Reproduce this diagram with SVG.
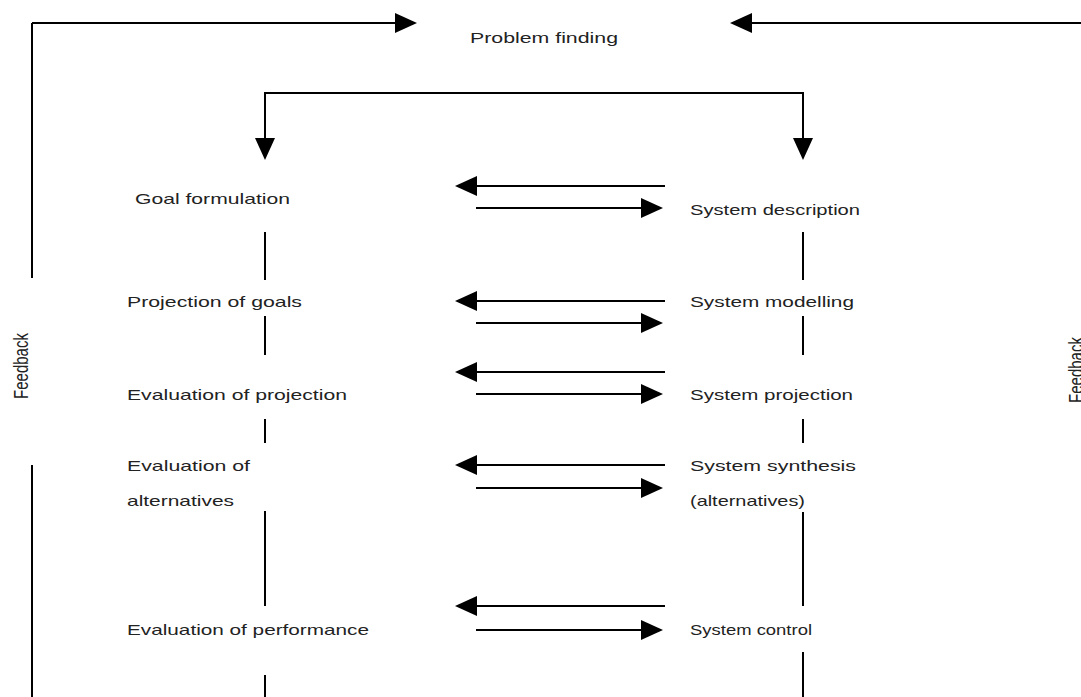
<svg xmlns="http://www.w3.org/2000/svg" width="1081" height="697" viewBox="0 0 1081 697">
  <defs>
    <style>
      .lbl { font-family: "Liberation Sans", Arial, sans-serif; font-size: 15px; fill: #222; }
      .ln { stroke: #000; stroke-width: 2; fill: none; }
      .arr { stroke: #000; stroke-width: 2; fill: none; marker-end: url(#head); }
    </style>
    <marker id="head" markerUnits="userSpaceOnUse" viewBox="0 0 22 20" markerWidth="22" markerHeight="20" refX="18" refY="10" orient="auto">
      <path d="M0,0 L22,10 L0,20 Z" fill="#000"/>
    </marker>
  </defs>
  <rect width="1081" height="697" fill="#fff"/>

  <!-- connectors -->
  <g id="connectors">
    <!-- outer feedback loops into problem finding -->
    <path class="ln" d="M32,278 V23"/>
    <path class="arr" d="M32,23 H413"/>
    <path class="ln" d="M32,465 V697"/>
    <path class="arr" d="M1081,23 H734"/>
    <!-- problem finding branches to both columns -->
    <path class="ln" d="M265,93 H803"/>
    <path class="arr" d="M265,92 V156"/>
    <path class="arr" d="M803,92 V156"/>
    <!-- left column spine -->
    <path class="ln" d="M265,232 V280 M265,316 V355 M265,419 V443 M265,511 V606 M265,675 V697"/>
    <!-- right column spine -->
    <path class="ln" d="M803,232 V280 M803,316 V355 M803,419 V443 M803,512 V606 M803,652 V697"/>
    <!-- exchanges between the columns -->
    <path class="arr" d="M665,186 H459"/>
    <path class="arr" d="M476,208 H659"/>
    <path class="arr" d="M665,301 H459"/>
    <path class="arr" d="M476,323 H659"/>
    <path class="arr" d="M665,372 H459"/>
    <path class="arr" d="M476,394 H659"/>
    <path class="arr" d="M665,465 H459"/>
    <path class="arr" d="M476,488 H659"/>
    <path class="arr" d="M665,606 H459"/>
    <path class="arr" d="M476,630 H659"/>
  </g>

  <g id="problem-finding">
    <text class="lbl" x="470" y="43" textLength="148" lengthAdjust="spacingAndGlyphs">Problem finding</text>
  </g>
  <g id="feedback-left">
    <text class="lbl" text-anchor="middle" transform="translate(28,366) scale(1.35,1) rotate(-90)">Feedback</text>
  </g>
  <g id="feedback-right">
    <text class="lbl" text-anchor="middle" transform="translate(1083,370) scale(1.35,1) rotate(-90)">Feedback</text>
  </g>

  <g id="goal-formulation">
    <text class="lbl" x="135" y="204" textLength="155" lengthAdjust="spacingAndGlyphs">Goal formulation</text>
  </g>
  <g id="projection-of-goals">
    <text class="lbl" x="127" y="307" textLength="175" lengthAdjust="spacingAndGlyphs">Projection of goals</text>
  </g>
  <g id="evaluation-of-projection">
    <text class="lbl" x="127" y="400" textLength="220" lengthAdjust="spacingAndGlyphs">Evaluation of projection</text>
  </g>
  <g id="evaluation-of-alternatives">
    <text class="lbl" x="127" y="471" textLength="123" lengthAdjust="spacingAndGlyphs">Evaluation of</text>
    <text class="lbl" x="127" y="506" textLength="107" lengthAdjust="spacingAndGlyphs">alternatives</text>
  </g>
  <g id="evaluation-of-performance">
    <text class="lbl" x="127" y="635" textLength="242" lengthAdjust="spacingAndGlyphs">Evaluation of performance</text>
  </g>

  <g id="system-description">
    <text class="lbl" x="690" y="215" textLength="170" lengthAdjust="spacingAndGlyphs">System description</text>
  </g>
  <g id="system-modelling">
    <text class="lbl" x="690" y="307" textLength="164" lengthAdjust="spacingAndGlyphs">System modelling</text>
  </g>
  <g id="system-projection">
    <text class="lbl" x="690" y="400" textLength="163" lengthAdjust="spacingAndGlyphs">System projection</text>
  </g>
  <g id="system-synthesis">
    <text class="lbl" x="690" y="471" textLength="166" lengthAdjust="spacingAndGlyphs">System synthesis</text>
    <text class="lbl" x="690" y="506" textLength="115" lengthAdjust="spacingAndGlyphs">(alternatives)</text>
  </g>
  <g id="system-control">
    <text class="lbl" x="690" y="635" textLength="122" lengthAdjust="spacingAndGlyphs">System control</text>
  </g>
</svg>
